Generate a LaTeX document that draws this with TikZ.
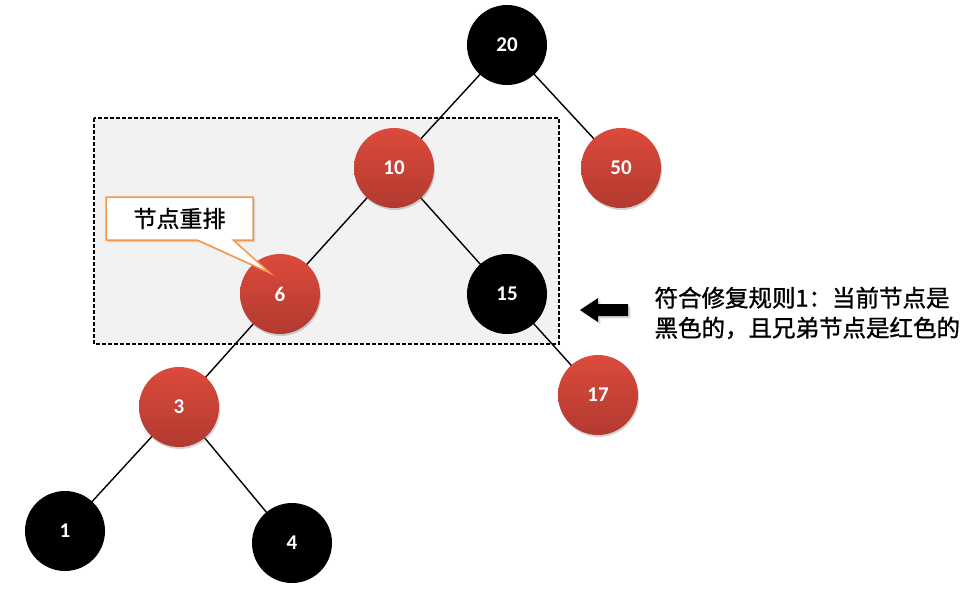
\documentclass[tikz,border=0pt]{standalone}
\usepackage{fontspec}
\setmainfont{Carlito}
\newfontfamily\cjk{Noto Sans CJK SC}[FakeBold=1.2]
\usetikzlibrary{shadows,shapes.callouts}

\definecolor{rbtop}{HTML}{DC4A3C}
\definecolor{rbbot}{HTML}{B23A30}
\definecolor{boxgray}{HTML}{F2F2F2}
\definecolor{callorange}{HTML}{F79646}

\begin{document}
\begin{tikzpicture}[x=1pt, y=-1pt,
  rbnode/.style={circle, minimum size=80pt, inner sep=0pt, text=white, font=\fontsize{21}{21}\selectfont\bfseries},
  rednode/.style={rbnode, top color=rbtop, bottom color=rbbot, drop shadow={opacity=0.35, shadow xshift=1pt, shadow yshift=-2pt}},
  blacknode/.style={rbnode, fill=black},
  edge/.style={line width=1.4pt}]
\useasboundingbox (0,0) rectangle (978,590);

% highlighted part of the tree
\draw[dash pattern=on 4pt off 2pt, line width=1.3pt, fill=boxgray] (94,118) rectangle (559,344);

\coordinate (n20) at (507,45);
\coordinate (n10) at (394,168);
\coordinate (n50) at (621,168);
\coordinate (n6) at (280,294);
\coordinate (n15) at (507,294);
\coordinate (n17) at (598,395);
\coordinate (n3) at (179,407);
\coordinate (n1) at (65,531);
\coordinate (n4) at (292,543);

\draw[edge] (n20) -- (n10);
\draw[edge] (n20) -- (n50);
\draw[edge] (n10) -- (n6);
\draw[edge] (n10) -- (n15);
\draw[edge] (n15) -- (n17);
\draw[edge] (n6) -- (n3);
\draw[edge] (n3) -- (n1);
\draw[edge] (n3) -- (n4);

\node[blacknode] (k20) at (n20) {20};
\node[rednode] (k10) at (n10) {10};
\node[rednode] (k50) at (n50) {50};
\node[rednode] (k6) at (n6) {6};
\node[blacknode] (k15) at (n15) {15};
\node[rednode] (k17) at (n17) {17};
\node[rednode] (k3) at (n3) {3};
\node[blacknode] (k1) at (n1) {1};
\node[blacknode] (k4) at (n4) {4};

%\node at (270,273) {x};
\node[rectangle callout, callout absolute pointer={(270,273)}, callout pointer width=36pt,
  draw=callorange, line width=1.5pt, fill=white, minimum width=147pt, minimum height=43pt,
  font=\cjk\fontsize{23}{23}\selectfont, drop shadow={opacity=0.3, shadow xshift=2pt, shadow yshift=-2pt}]
  (callout) at (179.5,218.5) {节点重排};

\fill[drop shadow={opacity=0.3}] (580,310) -- (598,298) -- (598,304) -- (628,304) -- (628,316) -- (598,316) -- (598,322) -- cycle;

\node[anchor=west, align=left, font=\cjk\fontsize{23.5}{30}\selectfont] (rule) at (651,313)
  {符合修复规则1：当前节点是\\黑色的，且兄弟节点是红色的};
\end{tikzpicture}
\end{document}
